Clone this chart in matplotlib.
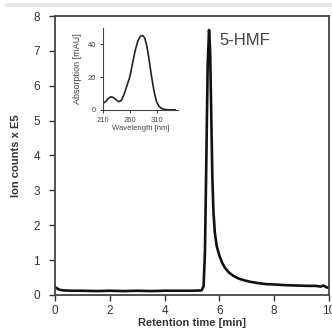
import matplotlib
matplotlib.use("Agg")
import matplotlib.pyplot as plt
from matplotlib.lines import Line2D

plt.rcParams['font.family'] = ['Liberation Sans', 'DejaVu Sans']

# Chromatogram (retention time in min, ion counts x E5)
time_min = [0.0, 0.05, 0.15, 0.3, 0.6, 1.0, 1.5, 2.0, 2.5, 3.0, 3.5, 4.0, 4.5, 5.0,
            5.35, 5.42, 5.47, 5.52, 5.57, 5.62, 5.66, 5.70, 5.74, 5.78, 5.83, 5.9,
            6.0, 6.1, 6.2, 6.35, 6.5, 6.7, 6.9, 7.1, 7.4, 7.7, 8.0, 8.4, 8.8,
            9.2, 9.5, 9.7, 9.8, 9.9, 10.0]
ion_counts = [0.22, 0.2, 0.15, 0.13, 0.12, 0.12, 0.11, 0.12, 0.11, 0.12, 0.11, 0.12, 0.12, 0.12,
              0.13, 0.25, 1.2, 3.8, 6.6, 7.6, 7.0, 5.2, 3.4, 2.4, 1.8, 1.4,
              1.12, 0.92, 0.78, 0.64, 0.55, 0.47, 0.42, 0.38, 0.34, 0.31, 0.30, 0.28, 0.27,
              0.26, 0.26, 0.24, 0.27, 0.22, 0.2]

# UV absorption spectrum (inset)
wavelength_nm = [210, 215, 220, 225, 230, 235, 240, 245, 250, 255, 260, 265, 270, 275,
                 280, 284, 288, 292, 296, 300, 305, 310, 315, 320, 325, 330, 340, 345]
absorption_mau = [4, 5, 7, 8, 7.5, 6, 5, 6, 10, 15, 20, 28, 36, 42,
                  45, 45.5, 44, 39, 31, 22, 12, 5, 2, 0.8, 0.3, 0.1, 0, 0]

fig = plt.figure(figsize=(3.32, 3.34), dpi=100)
fig.add_artist(Line2D([0.02, 1], [0.985, 0.985], color='#e6e6e6', lw=3))

ax = fig.add_axes([0.166, 0.117, 0.825, 0.835])
ax.plot(time_min, ion_counts, color='#111111', lw=1.9)
ax.set_xlim(0, 10)
ax.set_ylim(0, 8)
ax.set_xticks([0, 2, 4, 6, 8, 10])
ax.set_yticks(range(0, 9))
ax.tick_params(labelsize=8.5, length=4, width=1, colors='#333333', labelcolor='#333333')
ax.tick_params(axis='y', pad=7)
ax.tick_params(axis='x', pad=3)
for s in ax.spines.values():
    s.set_color('#444444')
    s.set_linewidth(1.3)
ax.set_xlabel('Retention time [min]', fontsize=8, fontweight='bold', color='#333333', labelpad=1)
ax.set_ylabel('Ion counts x E5', fontsize=8, fontweight='bold', color='#333333', labelpad=9)
ax.text(6.0, 7.3, '5-HMF', fontsize=12, color='#444444', va='center')

ins = fig.add_axes([0.31, 0.671, 0.226, 0.245])
ins.plot(wavelength_nm, absorption_mau, color='#222222', lw=1.2)
ins.set_xlim(210, 350)
ins.set_ylim(0, 50)
ins.set_xticks([210, 260, 310])
ins.set_yticks([0, 20, 40])
ins.spines['top'].set_visible(False)
ins.spines['right'].set_visible(False)
for s in ('left', 'bottom'):
    ins.spines[s].set_color('#444444')
ins.tick_params(labelsize=5.5, length=2, pad=3, colors='#444444')
ins.set_xlabel('Wavelength [nm]', fontsize=5.5, color='#444444', labelpad=1)
ins.set_ylabel('Absorption [mAU]', fontsize=6.5, color='#444444', labelpad=4)
ins.patch.set_alpha(0)

fig.savefig('out.png', dpi=100)
